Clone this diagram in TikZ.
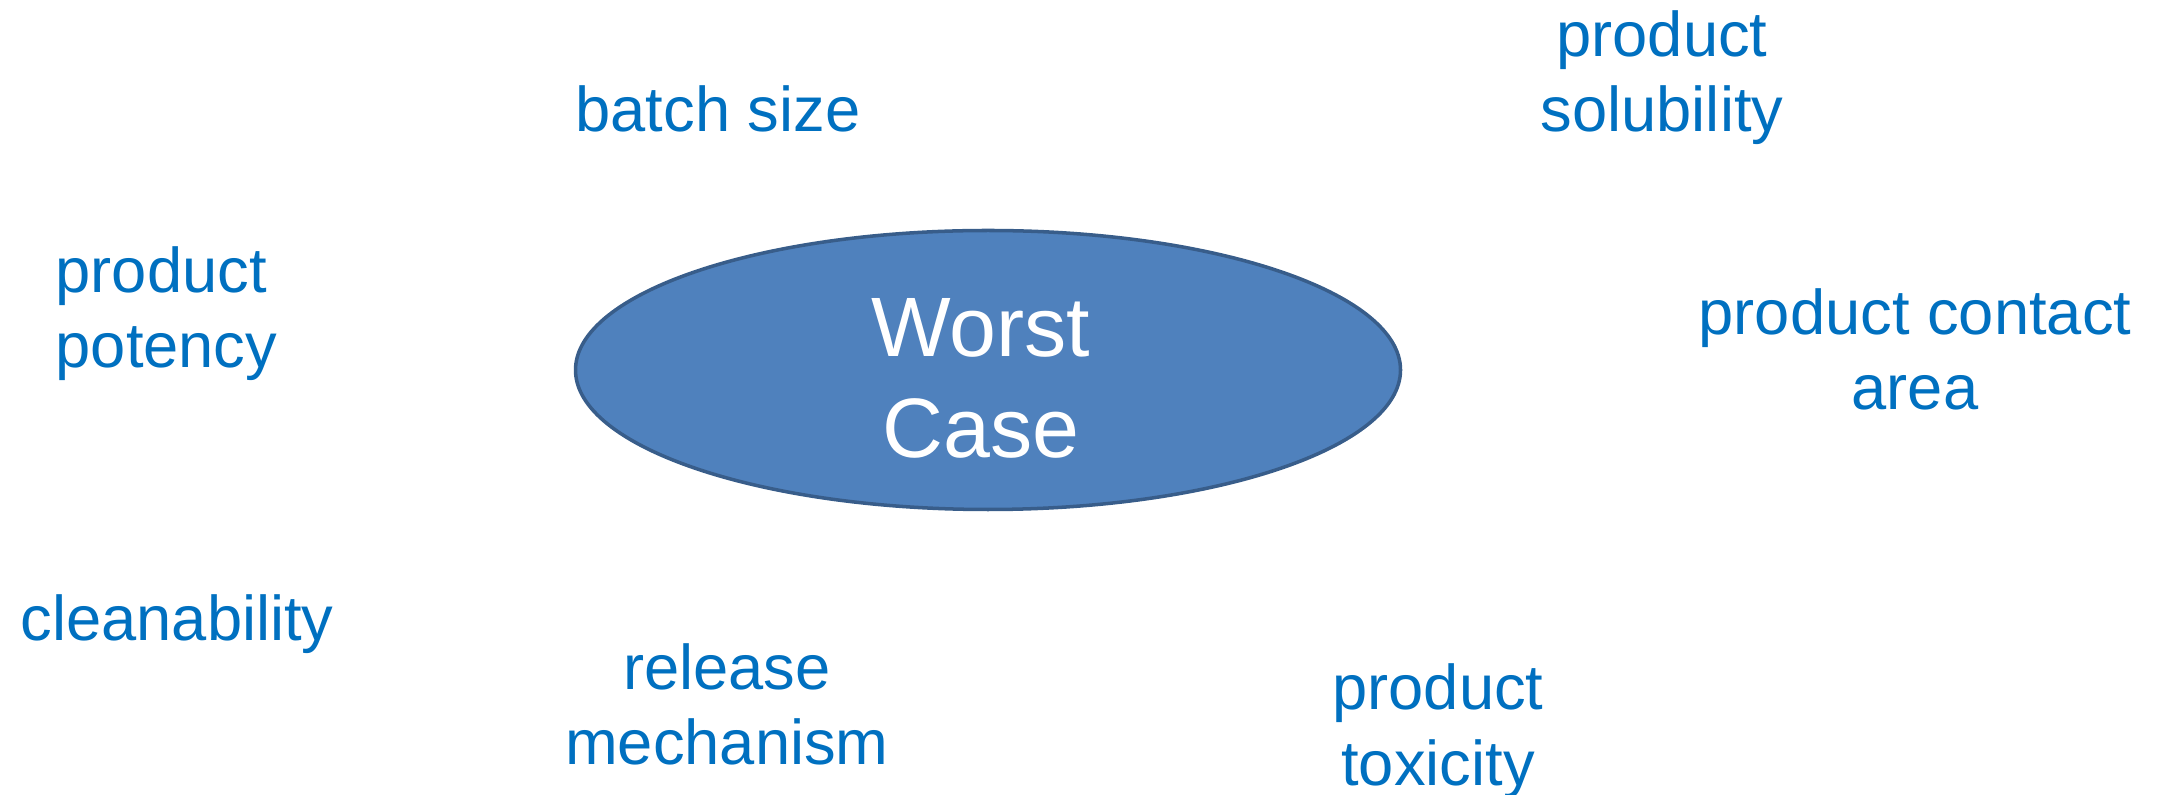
\documentclass[tikz,border=0pt]{standalone}
\usepackage{fontspec}
\setmainfont{Liberation Sans}
\usetikzlibrary{shapes.geometric}
\definecolor{factorblue}{HTML}{0070C0}
\definecolor{ovalfill}{HTML}{4F81BD}
\definecolor{ovaldraw}{HTML}{385D8A}
\begin{document}
\begin{tikzpicture}[
  factor/.style={text=factorblue, font=\fontsize{18}{21.6}\selectfont, inner sep=0pt, anchor=base},
  oval/.style={ellipse, fill=ovalfill, draw=ovaldraw, line width=1pt, inner sep=0pt,
    minimum width=8.25cm, minimum height=2.79cm},
  ovaltext/.style={text=white, font=\fontsize{24}{28.8}\selectfont, align=center, inner sep=0pt, anchor=base}
]
\useasboundingbox (0,0) rectangle (21.6,-7.95);
% Central oval, text set on the baseline of its last line
\node[oval] (worst) at (9.88,-3.70) {};
\node[ovaltext] (worsttext) at (9.81,-4.58) {Worst\\Case};
% Factors around it (anchored at the baseline of the last line)
\node[factor, align=center] (batch) at (7.18,-1.32) {batch size};
\node[factor, align=center] (solub) at (16.62,-1.32) {product\\solubility};
\node[factor, align=left, anchor=base west] (potency) at (0.55,-3.68) {product\\potency};
\node[factor, align=center] (contact) at (19.15,-4.10) {product contact\\area};
\node[factor, align=left, anchor=base west] (clean) at (0.20,-6.41) {cleanability};
\node[factor, align=center] (release) at (7.27,-7.65) {release\\mechanism};
\node[factor, align=center] (toxic) at (14.38,-7.85) {product\\toxicity};
\end{tikzpicture}
\end{document}
